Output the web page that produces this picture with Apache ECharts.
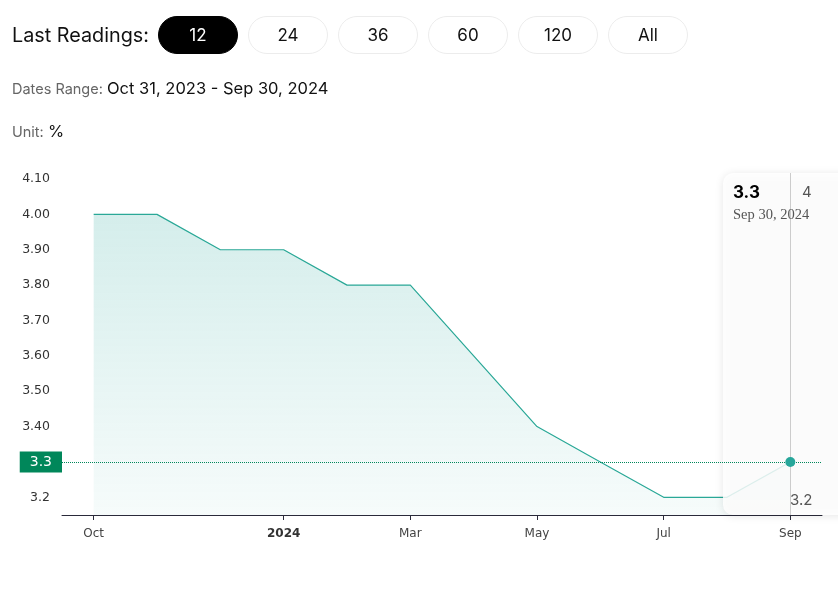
<!DOCTYPE html>
<html>
<head>
<meta charset="utf-8">
<script src="https://cdn.jsdelivr.net/npm/echarts@6/dist/echarts.min.js"></script>
<style>
  html, body { margin: 0; padding: 0; background: #fff; }
  #wrap { position: relative; width: 838px; height: 593px; overflow: hidden; }
  #chart { position: absolute; left: 0; top: 0; width: 838px; height: 593px; }
  .hdr { position: absolute; font-family: "Inter", "Open Sans", sans-serif; color: #111; white-space: nowrap; z-index: 2; }
  .btn { position: absolute; top: 16px; width: 78px; height: 36px; border: 1px solid #ececec; border-radius: 19px;
         font-family: "Inter", "Open Sans", sans-serif; font-size: 17px; line-height: 36px; text-align: center; color: #111; background: #fff; z-index: 2; }
  .btn.active { background: #000; color: #fff; border-color: #000; }
  .grey { color: #666; font-size: 14.5px; }
  .blk { color: #111; font-size: 16.5px; }
</style>
</head>
<body>
<div id="wrap">
  <div id="chart"></div>
  <div class="hdr" style="left:12px; top:23px; font-size:19.8px;">Last Readings:</div>
  <div id="buttons"></div>
  <div class="hdr" style="left:12px; top:78px;"><span class="grey">Dates Range: </span><span class="blk" id="range"></span></div>
  <div class="hdr" style="left:12px; top:121px;"><span class="grey">Unit: </span><span class="blk">%</span></div>
</div>
<script>
const months = ['Oct','Nov','Dec','Jan','Feb','Mar','Apr','May','Jun','Jul','Aug','Sep'];
const dates = ['Oct 31, 2023','Nov 30, 2023','Dec 31, 2023','Jan 31, 2024','Feb 29, 2024','Mar 31, 2024','Apr 30, 2024','May 31, 2024','Jun 30, 2024','Jul 31, 2024','Aug 31, 2024','Sep 30, 2024'];
const values = [4.0, 4.0, 3.9, 3.9, 3.8, 3.8, 3.6, 3.4, 3.3, 3.2, 3.2, 3.3];
const xTickLabels = ['Oct','','','2024','','Mar','','May','','Jul','','Sep'];
const yTickValues = [3.2, 3.3, 3.4, 3.5, 3.6, 3.7, 3.8, 3.9, 4.0, 4.1];
const buttonLabels = ['12','24','36','60','120','All'];
const tooltipExtraTop = '4';
const tooltipExtraBottom = '3.2';

// header
const bwrap = document.getElementById('buttons');
buttonLabels.forEach((b, i) => {
  const d = document.createElement('div');
  d.className = 'btn' + (i === 0 ? ' active' : '');
  d.style.left = (158 + i * 90) + 'px';
  d.textContent = b;
  bwrap.appendChild(d);
});
document.getElementById('range').textContent = dates[0] + ' - ' + dates[dates.length - 1];

const last = values.length - 1;
const lastVal = values[last];
const chart = echarts.init(document.getElementById('chart'), null, { renderer: 'canvas' });

const font = 'DejaVu Sans';
const option = {
  animation: false,
  grid: { left: 62, right: 16, top: 173, bottom: 78, containLabel: false },
  xAxis: {
    type: 'category',
    data: months,
    boundaryGap: true,
    axisLine: { lineStyle: { color: '#2a2a3a', width: 1 } },
    axisTick: { show: true, alignWithLabel: true, length: 5, lineStyle: { color: '#2a2a3a' },
                interval: (i) => xTickLabels[i] !== '' },
    axisLabel: {
      interval: (i) => xTickLabels[i] !== '',
      formatter: (v, i) => (xTickLabels[i] === '2024' ? '{b|' + xTickLabels[i] + '}' : xTickLabels[i]),
      color: '#444', fontFamily: font, fontSize: 12, margin: 13,
      rich: { b: { fontWeight: 'bold', color: '#333', fontFamily: font, fontSize: 12 } }
    },
    splitLine: { show: false }
  },
  yAxis: {
    type: 'value',
    min: 3.15,
    max: 4.117,
    axisLine: { show: false },
    axisTick: { show: false },
    splitLine: { show: false },
    axisLabel: {
      customValues: yTickValues,
      formatter: (v) => (Math.abs(v - 3.2) < 1e-6 ? '3.2' : v.toFixed(2)),
      color: '#333', fontFamily: font, fontSize: 12.5, margin: 12, padding: [4, 0, 0, 0]
    }
  },
  graphic: [
    { type: 'rect', z: 3, shape: { x: 723, y: 173, width: 140, height: 342, r: 10 },
      style: { fill: 'rgba(255,255,255,0.84)', shadowBlur: 8, shadowColor: 'rgba(0,0,0,0.12)', shadowOffsetX: 0, shadowOffsetY: 1 } },
    { type: 'text', z: 8, x: 733, y: 184, style: { text: String(lastVal), font: 'bold 17px "Inter", sans-serif', fill: '#000' } },
    { type: 'text', z: 8, x: 733, y: 208, style: { text: dates[last], font: '14.5px "Liberation Serif", serif', fill: '#555' } },
    { type: 'text', z: 8, x: 802, y: 185, style: { text: tooltipExtraTop, font: '15px "Inter", sans-serif', fill: '#555' } },
    { type: 'text', z: 8, x: 790, y: 493, style: { text: tooltipExtraBottom, font: '15px "Inter", sans-serif', fill: '#555' } }
  ],
  series: [
    {
      type: 'line',
      z: 2,
      data: values,
      symbol: 'none',
      lineStyle: { color: '#2aa897', width: 1.2 },
      areaStyle: {
        color: new echarts.graphic.LinearGradient(0, 0, 0, 1, [
          { offset: 0, color: 'rgba(38,166,154,0.28)' },
          { offset: 1, color: 'rgba(38,166,154,0.06)' }
        ])
      },
      markLine: {
        silent: true,
        symbol: 'none',
        z: 5,
        data: [{ yAxis: lastVal }],
        lineStyle: { type: 'dotted', color: '#00875a', width: 1 },
        label: {
          position: 'start', distance: 0,
          formatter: String(lastVal),
          backgroundColor: '#00875a', color: '#fff',
          fontFamily: font, fontSize: 14,
          padding: [4, 10, 3, 10]
        }
      }
    },
    {
      type: 'scatter',
      z: 6,
      data: values.map((v, i) => (i === last ? v : '-')),
      symbolSize: 10,
      itemStyle: { color: '#26a69a', opacity: 1 },
      markLine: {
        silent: true,
        symbol: 'none',
        z: 4,
        data: [{ xAxis: months[last] }],
        lineStyle: { type: 'solid', color: '#cccccc', width: 1 },
        label: { show: false }
      }
    }
  ]
};
chart.setOption(option);
</script>
</body>
</html>
